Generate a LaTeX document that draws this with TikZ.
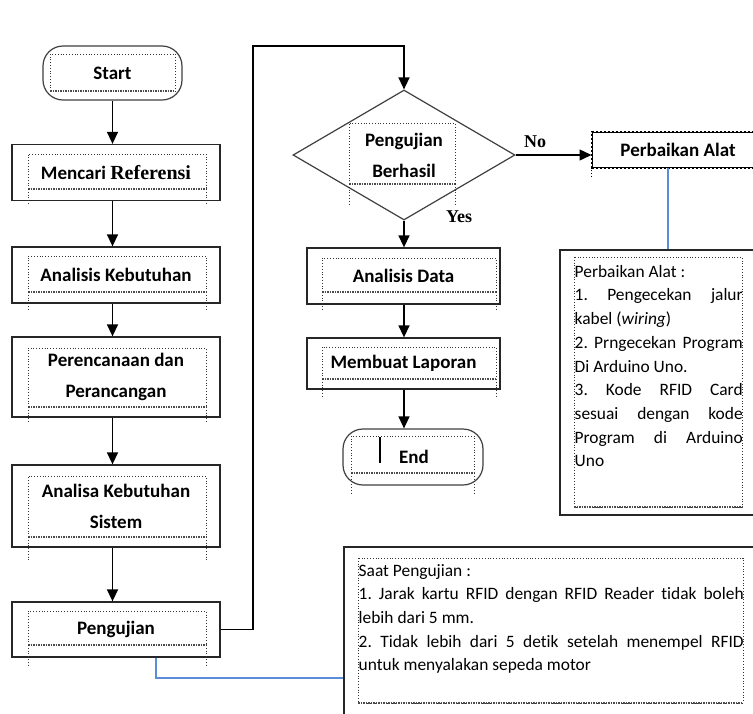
\documentclass[tikz,border=0pt]{standalone}
\usepackage{fontspec}
\setmainfont[Ligatures=NoCommon]{Carlito}
\newfontfamily\serifbold{Liberation Serif}
\usetikzlibrary{shapes.geometric,arrows.meta}
\frenchspacing
\newcommand\lblfont{\fontsize{19}{31}\selectfont\bfseries}
\newcommand\notefont{\fontsize{17.4}{23.7}\selectfont\frenchspacing}
\newcommand\jline[2]{\makebox[#1][s]{#2}}
\newcommand\innerdot[5]{%
  \draw[dotted, line width=0.8pt, black!80] (#1,#4) -- (#1,#2) -- (#3,#2) -- (#3,#4);
  \draw[densely dotted, line width=1.5pt, black!70] (#1,#4) -- (#3,#4);
  \draw[dotted, line width=0.8pt, black!80] (#1,#4) -- (#1,#5) (#3,#4) -- (#3,#5);}
\tikzset{
  procbox/.style={draw=black!85, line width=1.3pt, minimum width=208pt, minimum height=#1, inner sep=0pt, align=center, font=\lblfont},
  termbox/.style={draw=black!75, line width=1.2pt, rounded corners=20pt, inner sep=0pt, align=center, font=\lblfont},
  decbox/.style={draw=black!75, line width=1.2pt, diamond, aspect=1.7, minimum width=222pt, minimum height=130pt, inner sep=0pt, align=center, font=\lblfont},
  notebox/.style={draw=black!85, line width=1.3pt, inner sep=0pt},
  notetext/.style={inner sep=0pt, align=left, font=\notefont, anchor=north west},
  arr/.style={line width=1.4pt, -{Triangle[width=11pt,length=12pt]}},
  bl/.style={line width=1.2pt, draw={rgb,255:red,91;green,142;blue,214}},
  yn/.style={inner sep=0pt, font=\fontsize{18}{20}\selectfont\serifbold\bfseries}
}
\begin{document}
\begin{tikzpicture}[x=1pt,y=-1pt]
\useasboundingbox (0,0) rectangle (753,713);
\clip (0,0) rectangle (753,713);
\fill[white] (0,0) rectangle (753,713);

% left column
\node[termbox, minimum width=139pt, minimum height=54pt] (start) at (112.5,73) {Start};
\innerdot{50}{54}{175}{91}{91}
\node[procbox=56pt] (ref) at (116,172.5) {Mencari {\fontsize{20}{31}\selectfont\serifbold\bfseries Referensi}};
\innerdot{28}{154}{206}{189}{204}
\node[procbox=56pt] (ana) at (116,275) {Analisis Kebutuhan};
\innerdot{28}{256}{206}{292}{310}
\node[procbox=80pt] (per) at (116,377) {Perencanaan dan\\Perancangan};
\innerdot{28}{348}{206}{407}{423}
\node[procbox=82pt] (sis) at (116,506) {Analisa Kebutuhan\\Sistem};
\innerdot{28}{476}{206}{537}{562}
\node[procbox=55pt] (uji) at (116,629.5) {Pengujian};
\innerdot{28}{611}{206}{645}{665}

\draw[arr] (start.south) -- (start.south |- ref.north);
\draw[arr] (ref.south -| start.south) -- (ana.north -| start.south);
\draw[arr] (ana.south -| start.south) -- (per.north -| start.south);
\draw[arr] (per.south -| start.south) -- (sis.north -| start.south);
\draw[arr] (sis.south -| start.south) -- (uji.north -| start.south);

% middle column
\node[decbox] (dec) at (404,155) {Pengujian\\Berhasil};
\innerdot{349}{123}{455}{184}{204}
\node[procbox=56pt, minimum width=193pt] (data) at (403.5,276) {Analisis Data};
\innerdot{322}{258}{496}{292}{311}
\node[procbox=51pt, minimum width=193pt] (lap) at (403.5,363.5) {Membuat Laporan};
\innerdot{322}{347}{496}{379}{397}
\node[termbox, minimum width=140pt, minimum height=56pt] (end) at (413,457) {\hspace*{2pt}End};
\innerdot{351}{436}{474}{473}{493}
\draw[line width=2pt] (end.center) ++(-33,-20) -- ++(0,26);

\coordinate (top) at (253,46);
\coordinate (colm) at (404,0);
\draw[arr] (uji.east) -| (top) -| (dec.north);
\draw[arr] (dec.south) -- (dec.south |- data.north);
\draw[arr] (data.south -| colm) -- (lap.north -| colm);
\draw[arr] (lap.south -| colm) -- (end.north -| colm);

\node[yn] (yes) at (459,217) {Yes};
\node[yn] (no) at (535,142) {No};

% right column
\node[draw=black, line width=1pt, minimum width=172pt, minimum height=35pt, inner sep=0pt, font=\lblfont] (perb) at (678,149.5) {Perbaikan Alat};
\draw[dotted, line width=2pt] (perb.south west) rectangle (perb.north east);
\draw[dotted, line width=0.8pt] (perb.south west) -- ++(0,10);
\draw[arr] (dec.east) -- (dec.east -| perb.west);

\node[notebox, minimum width=210pt, minimum height=265pt] (note1) at (665,382.5) {};
\draw[dotted, line width=0.8pt, black!80] (574,257) rectangle (742,507);
\draw[densely dotted, line width=1.5pt, black!70] (574,507) -- (742,507);
\node[notetext] (note1txt) at (574.5,265) {Perbaikan Alat :\\
\jline{168pt}{1. Pengecekan jalur}\\
kabel (\textit{wiring})\\
\jline{168pt}{2. Prngecekan Program}\\
Di Arduino Uno.\\
\jline{168pt}{3. Kode RFID Card}\\
\jline{168pt}{sesuai dengan kode}\\
\jline{168pt}{Program di Arduino}\\
Uno};

\node[notebox, minimum width=426pt, minimum height=180pt] (note2) at (557,637) {};
\draw[dotted, line width=0.8pt, black!80] (358,558) rectangle (743,703);
\draw[densely dotted, line width=1.5pt, black!70] (358,703) -- (743,703);
\node[notetext] (note2txt) at (358.5,564) {Saat Pengujian :\\
\jline{385pt}{1. Jarak kartu RFID dengan RFID Reader tidak boleh}\\
lebih dari 5 mm.\\
\jline{385pt}{2. Tidak lebih dari 5 detik setelah menempel RFID}\\
untuk menyalakan sepeda motor};

\coordinate (b1) at (668,0);
\draw[bl] (perb.south -| b1) -- (note1.north -| b1);
\coordinate (b3) at (156,678);
\draw[bl] (uji.south -| b3) -- (b3) -- (b3 -| note2.west);
\end{tikzpicture}
\end{document}
